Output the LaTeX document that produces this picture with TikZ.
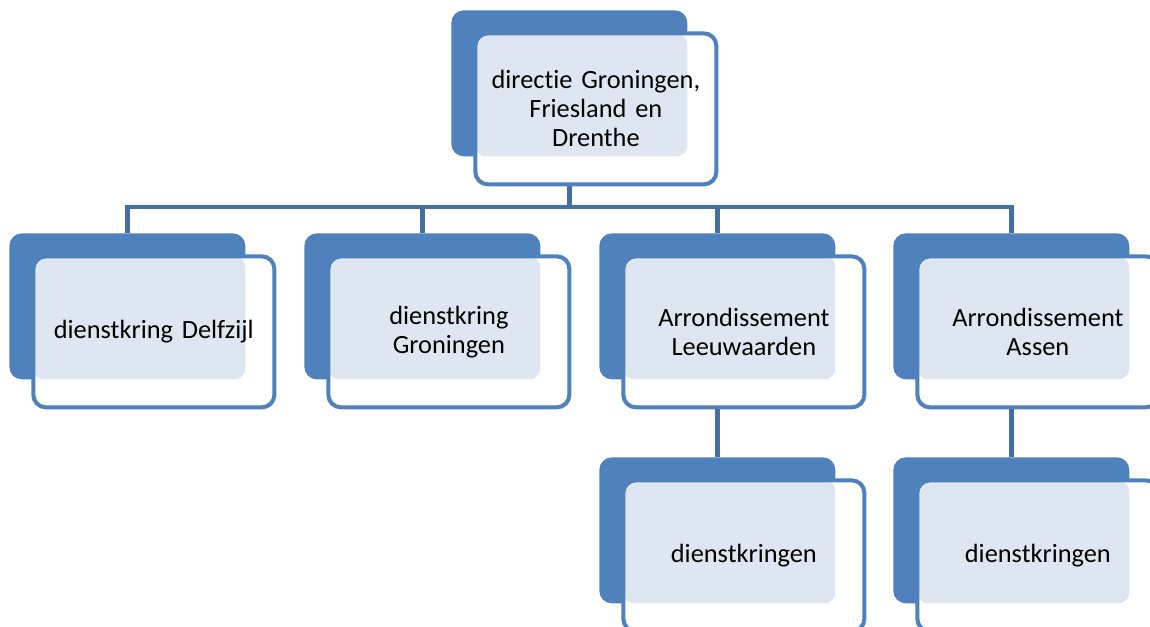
\documentclass[tikz,border=0pt]{standalone}
\usepackage{fontspec}
\setmainfont[Ligatures=NoCommon, WordSpace=0.75]{Carlito}
\usetikzlibrary{positioning}
\definecolor{boxblue}{RGB}{79,129,189}
\definecolor{linkblue}{RGB}{67,111,163}
\definecolor{dotblue}{RGB}{221,230,241}

\begin{document}
\begin{tikzpicture}[
 backbox/.style={rectangle,
  rounded corners=0.25cm,
  fill=boxblue,
  anchor=north west,
  inner sep=0pt,
  minimum width=4.72cm,
  minimum height=2.92cm},
 frontbox/.style={rectangle,
  rounded corners=0.25cm,
  fill=white,
  anchor=north west,
  minimum width=4.82cm,
  minimum height=3.02cm,
  text width=4.3cm,
  align=center,
  font=\fontsize{15}{16.5}\selectfont,
  path picture={\fill[dotblue, rounded corners=0.22cm]
   (path picture bounding box.north west) rectangle ++(4.24,-2.46);},
  postaction={draw=boxblue, line width=2.3pt}},
 link/.style={draw=linkblue, line width=2.6pt}]

 \useasboundingbox (0,0) rectangle (23,-12.54);
 \clip (0,0) rectangle (23,-12.54);

 % back boxes
 \node[backbox] (dir-b) at (9.02,-0.2) {};
 \node[backbox] (delfzijl-b) at (0.18,-4.66) {};
 \node[backbox] (groningen-b) at (6.08,-4.66) {};
 \node[backbox] (leeuwarden-b) at (11.98,-4.66) {};
 \node[backbox] (assen-b) at (17.86,-4.66) {};
 \node[backbox] (kringen1-b) at (11.98,-9.14) {};
 \node[backbox] (kringen2-b) at (17.86,-9.14) {};

 % connectors
 \coordinate (bar) at (0,-4.14);
 \draw[link] (dir-b.south) -- (dir-b.south |- bar) -| (delfzijl-b.north);
 \draw[link] (dir-b.south) -- (dir-b.south |- bar) -| (groningen-b.north);
 \draw[link] (dir-b.south) -- (dir-b.south |- bar) -| (leeuwarden-b.north);
 \draw[link] (dir-b.south) -- (dir-b.south |- bar) -| (assen-b.north);
 \draw[link] (leeuwarden-b.south) -- (kringen1-b.north);
 \draw[link] (assen-b.south) -- (kringen2-b.north);

 % front boxes
 \node[frontbox] (dir) at ([xshift=0.48cm, yshift=-0.46cm]dir-b.north west) {directie Groningen,\\ Friesland en\\ Drenthe};
 \node[frontbox] (delfzijl) at ([xshift=0.48cm, yshift=-0.46cm]delfzijl-b.north west) {dienstkring Delfzijl};
 \node[frontbox] (groningen) at ([xshift=0.48cm, yshift=-0.46cm]groningen-b.north west) {dienstkring\\ Groningen};
 \node[frontbox] (leeuwarden) at ([xshift=0.48cm, yshift=-0.46cm]leeuwarden-b.north west) {Arrondissement\\ Leeuwaarden};
 \node[frontbox] (assen) at ([xshift=0.48cm, yshift=-0.46cm]assen-b.north west) {Arrondissement\\ Assen};
 \node[frontbox] (kringen1) at ([xshift=0.48cm, yshift=-0.46cm]kringen1-b.north west) {dienstkringen};
 \node[frontbox] (kringen2) at ([xshift=0.48cm, yshift=-0.46cm]kringen2-b.north west) {dienstkringen};

\end{tikzpicture}
\end{document}
